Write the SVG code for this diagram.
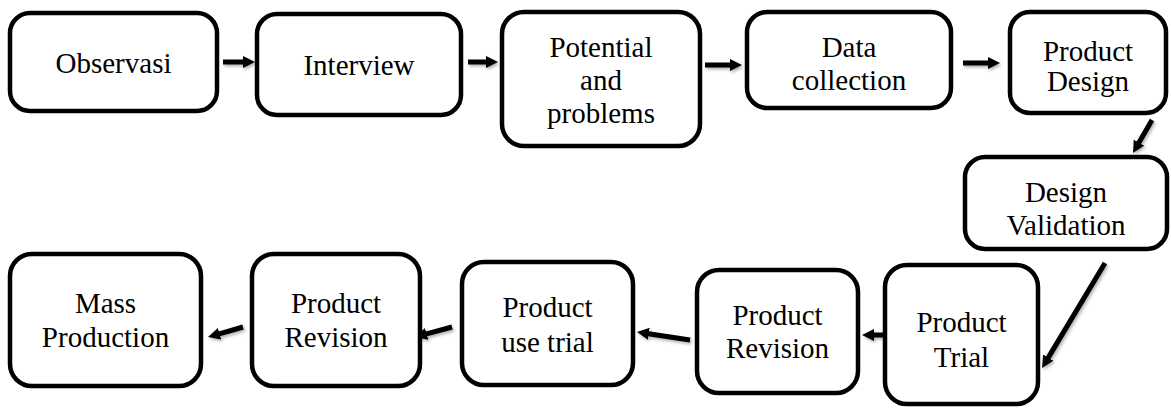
<svg xmlns="http://www.w3.org/2000/svg" width="1171" height="409" viewBox="0 0 1171 409">
<style>
.box{fill:#fff;stroke:#000;stroke-width:4.5}
text{font-family:'Liberation Serif','Times New Roman',serif;font-size:29px;fill:#000;text-anchor:middle}
.c{stroke:#000;stroke-width:5;fill:none;marker-end:url(#ah)}
</style>
<defs>
<marker id="ah" markerUnits="userSpaceOnUse" markerWidth="14" markerHeight="14" refX="2" refY="6" orient="auto">
<path d="M0,0 L12,6 L0,12 z" fill="#000"/>
</marker>
<filter id="sh" filterUnits="userSpaceOnUse" x="0" y="0" width="1171" height="409">
<feDropShadow dx="1.5" dy="2" stdDeviation="1.5" flood-color="#000" flood-opacity="0.3"/>
</filter>
</defs>
<rect width="1171" height="409" fill="#fff"/>
<g id="connectors" filter="url(#sh)">
<line class="c" x1="223" y1="62" x2="245" y2="62"/>
<line class="c" x1="468" y1="62" x2="488" y2="62"/>
<line class="c" x1="705" y1="65" x2="732" y2="65"/>
<line class="c" x1="963" y1="63" x2="990" y2="63"/>
<line class="c" x1="1152" y1="120" x2="1138" y2="144.3"/>
<line class="c" x1="1105" y1="263" x2="1047.2" y2="359.4"/>
<line class="c" x1="883" y1="335" x2="872" y2="335"/>
<line class="c" x1="690" y1="340" x2="646.9" y2="333.5"/>
<line class="c" x1="452" y1="327" x2="424.7" y2="334.4"/>
<line class="c" x1="243" y1="327" x2="217.6" y2="334.3"/>
</g>
<g id="observasi"><rect class="box" x="10" y="13" width="207" height="98" rx="20"/><text x="113.5" y="73">Observasi</text></g>
<g id="interview"><rect class="box" x="257" y="14" width="204" height="101" rx="20"/><text x="359" y="75">Interview</text></g>
<g id="potential"><rect class="box" x="502" y="12" width="198" height="134" rx="22"/><text x="601" y="57">Potential</text><text x="601" y="90">and</text><text x="601" y="123">problems</text></g>
<g id="data-collection"><rect class="box" x="747" y="12" width="204" height="96" rx="20"/><text x="849" y="57">Data</text><text x="849" y="90">collection</text></g>
<g id="product-design"><rect class="box" x="1010" y="12" width="156" height="101" rx="20"/><text x="1088" y="61">Product</text><text x="1088" y="91">Design</text></g>
<g id="design-validation"><rect class="box" x="965" y="157" width="202" height="92" rx="20"/><text x="1066" y="202">Design</text><text x="1066" y="235">Validation</text></g>
<g id="product-trial"><rect class="box" x="885" y="265" width="153" height="139" rx="22"/><text x="961.5" y="332">Product</text><text x="961.5" y="367">Trial</text></g>
<g id="product-revision-1"><rect class="box" x="697" y="270" width="161" height="123" rx="22"/><text x="777.5" y="325">Product</text><text x="777.5" y="358">Revision</text></g>
<g id="product-use-trial"><rect class="box" x="462" y="262" width="171" height="123" rx="22"/><text x="547.5" y="317">Product</text><text x="547.5" y="352">use trial</text></g>
<g id="product-revision-2"><rect class="box" x="252" y="254" width="168" height="132" rx="22"/><text x="336" y="313">Product</text><text x="336" y="347">Revision</text></g>
<g id="mass-production"><rect class="box" x="10" y="254" width="191" height="132" rx="22"/><text x="105.5" y="313">Mass</text><text x="105.5" y="347">Production</text></g>
</svg>
